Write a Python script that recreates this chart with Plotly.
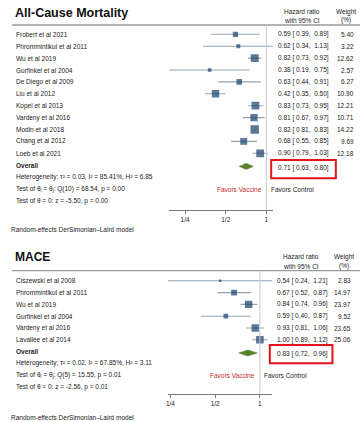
import math
import plotly.graph_objects as go

W, H = 360, 422

# ---------------- data: All-Cause Mortality ----------------
acm_studies = ["Frobert et al 2021", "Phrommintikul et al 2011", "Wu et al 2019",
               "Gurfinkel et al 2004", "De Diego et al 2009", "Liu et al 2012",
               "Kopel et al 2013", "Vardeny et al 2016", "Modin et al 2018",
               "Chang et al 2012", "Loeb et al 2021"]
acm_hr = [0.59, 0.62, 0.82, 0.38, 0.63, 0.42, 0.83, 0.81, 0.82, 0.68, 0.90]
acm_lo = [0.39, 0.34, 0.73, 0.19, 0.44, 0.35, 0.73, 0.67, 0.81, 0.55, 0.79]
acm_hi = [0.89, 1.13, 0.92, 0.75, 0.91, 0.50, 0.95, 0.97, 0.83, 0.85, 1.03]
acm_weight = [5.40, 3.22, 12.62, 2.57, 6.27, 10.90, 12.21, 10.71, 14.22, 9.69, 12.18]
acm_overall = [0.71, 0.63, 0.80]
acm_stats = ["Heterogeneity: τ² = 0.03, I² = 85.41%, H² = 6.85",
             "Test of θ<sub>i</sub> = θ<sub>j</sub>: Q(10) = 68.54, p = 0.00",
             "Test of θ = 0: z = -5.50, p = 0.00"]

# ---------------- data: MACE ----------------
mace_studies = ["Ciszewski et al 2008", "Phrommintikul et al 2011", "Wu et al 2019",
                "Gurfinkel et al 2004", "Vardeny et al 2016", "Lavallée et al 2014"]
mace_hr = [0.54, 0.67, 0.84, 0.59, 0.93, 1.00]
mace_lo = [0.24, 0.52, 0.74, 0.40, 0.81, 0.89]
mace_hi = [1.21, 0.87, 0.96, 0.87, 1.06, 1.12]
mace_weight = [2.83, 14.97, 23.97, 9.52, 23.65, 25.06]
mace_overall = [0.83, 0.72, 0.96]
mace_stats = ["Heterogeneity: τ² = 0.02, I² = 67.85%, H² = 3.11",
              "Test of θ<sub>i</sub> = θ<sub>j</sub>: Q(5) = 15.55, p = 0.01",
              "Test of θ = 0: z = -2.56, p = 0.01"]

tick_vals = [0.25, 0.5, 1]
tick_labels = ["1/4", "1/2", "1"]
titles = ["All-Cause Mortality", "MACE"]
header_hr = ["Hazard ratio", "with 95% CI"]
header_w = ["Weight", "(%)"]
footer = "Random-effects DerSimonian–Laird model"
favors = ["Favors Vaccine", "Favors Control"]

# ---------------- styling / layout constants (pixels) ----------------
FONT = "Liberation Sans, Arial, sans-serif"
SMALL = 6.5
TXT = "#222222"
SQUARE = "#173f69"
CI_COL = "#93a5b3"
DIAMOND = "#5c7f2c"
RED_TXT = "#c8282d"
BOX_RED = "#e3131b"
RULE = "#9a9a9a"
REF = "#c9c9c9"

panels = [
    dict(title_y=12.7, title_size=12.5, hdr_y=(11.7, 20.0), rule_y=25.0, axis_y=210.0,
         row0=34.3, step=11.9, x_left=168.0, x_right=273.0, overall_row=11.1,
         hr_x=276.0, w_x=355.7, hdr_hr_x=301.5, hdr_w_x=345.7, footer_y=229.0,
         box=(270.7, 160.0, 335.7, 178.3), sq_max=8.4, xa="x", ya="y"),
    dict(title_y=256.7, title_size=12.0, hdr_y=(256.7, 266.0), rule_y=270.7, axis_y=394.0,
         row0=280.8, step=11.8, x_left=166.7, x_right=271.7, overall_row=6.12,
         hr_x=274.3, w_x=352.7, hdr_hr_x=300.7, hdr_w_x=344.0, footer_y=417.0,
         box=(269.3, 345.0, 332.3, 363.3), sq_max=7.6, xa="x2", ya="y2"),
]
datasets = [
    (acm_studies, acm_hr, acm_lo, acm_hi, acm_weight, acm_overall, acm_stats),
    (mace_studies, mace_hr, mace_lo, mace_hi, mace_weight, mace_overall, mace_stats),
]


def px(p):
    return p / W


def py(p):
    return 1 - p / H


fig = go.Figure()
annotations = []
shapes = []
layout_axes = {}

for k, (cfg, data) in enumerate(zip(panels, datasets)):
    studies, hr, lo, hi, wt, overall, stats = data
    xa, ya = cfg["xa"], cfg["ya"]
    n = len(studies)
    rows = list(range(n))
    orow = cfg["overall_row"]

    # CI lines
    xs, ys = [], []
    for r, a, b in zip(rows, lo, hi):
        xs += [a, b, None]
        ys += [r, r, None]
    fig.add_trace(go.Scatter(x=xs, y=ys, mode="lines", line=dict(color=CI_COL, width=1.1),
                             xaxis=xa, yaxis=ya, hoverinfo="skip", showlegend=False))
    # weighted squares
    wmax = max(wt)
    sizes = [cfg["sq_max"] * math.sqrt(w / wmax) for w in wt]
    fig.add_trace(go.Scatter(x=hr, y=rows, mode="markers",
                             marker=dict(symbol="square", size=sizes, color=SQUARE,
                                         line=dict(width=0)),
                             xaxis=xa, yaxis=ya, showlegend=False))
    # overall diamond
    est, olo, ohi = overall
    h = 0.26
    fig.add_trace(go.Scatter(x=[olo, est, ohi, est, olo], y=[orow, orow - h, orow, orow + h, orow],
                             mode="lines", fill="toself", fillcolor=DIAMOND,
                             line=dict(color=DIAMOND, width=0.5),
                             xaxis=xa, yaxis=ya, showlegend=False))

    # axes
    r_top = (cfg["rule_y"] - cfg["row0"]) / cfg["step"]
    r_bot = (cfg["axis_y"] - cfg["row0"]) / cfg["step"]
    xname = "xaxis" if k == 0 else "xaxis2"
    yname = "yaxis" if k == 0 else "yaxis2"
    layout_axes[xname] = dict(
        type="log", range=[math.log10(min(lo)), math.log10(max(hi))],
        domain=[px(cfg["x_left"]), px(cfg["x_right"])], anchor=ya,
        showline=True, linecolor="#7a7a7a", linewidth=1, ticks="outside", ticklen=3,
        tickcolor="#7a7a7a", tickvals=tick_vals, ticktext=tick_labels,
        tickfont=dict(family=FONT, size=SMALL, color=TXT), showgrid=False, zeroline=False,
        fixedrange=True)
    layout_axes[yname] = dict(domain=[py(cfg["axis_y"]), py(cfg["rule_y"])],
                              range=[r_bot, r_top], visible=False, anchor=xa, fixedrange=True)

    fnt = dict(family=FONT, size=SMALL, color=TXT)
    # study labels and numbers
    for r, s, e, a, b, w in zip(rows, studies, hr, lo, hi, wt):
        annotations.append(dict(x=px(11.7), xref="paper", y=r, yref=ya, text=s, showarrow=False,
                                xanchor="left", yanchor="middle", font=fnt))
        annotations.append(dict(x=px(cfg["hr_x"]), xref="paper", y=r, yref=ya,
                                text=f"{e:.2f} [ {a:.2f},  {b:.2f}]", showarrow=False,
                                xanchor="left", yanchor="middle", font=fnt))
        annotations.append(dict(x=px(cfg["w_x"]), xref="paper", y=r, yref=ya,
                                text=f"{w:.2f}", showarrow=False,
                                xanchor="right", yanchor="middle", font=fnt))
    # overall
    annotations.append(dict(x=px(11.7), xref="paper", y=orow - 0.1, yref=ya, text="<b>Overall</b>",
                            showarrow=False, xanchor="left", yanchor="middle", font=fnt))
    annotations.append(dict(x=px(cfg["hr_x"]), xref="paper", y=orow + 0.1, yref=ya,
                            text=f"{est:.2f} [ {olo:.2f},  {ohi:.2f}]", showarrow=False,
                            xanchor="left", yanchor="middle", font=fnt))
    for i, s in enumerate(stats):
        annotations.append(dict(x=px(11.7), xref="paper", y=round(orow) + 1 + i, yref=ya, text=s,
                                showarrow=False, xanchor="left", yanchor="middle", font=fnt))
    # favors labels
    fav_row = round(orow) + 2
    annotations.append(dict(x=0, xref=xa, y=fav_row, yref=ya,
                            text=favors[0], showarrow=False, xanchor="right", yanchor="middle",
                            xshift=-2.5, font=dict(family=FONT, size=SMALL, color=RED_TXT)))
    annotations.append(dict(x=0, xref=xa, y=fav_row, yref=ya, text=favors[1], showarrow=False,
                            xanchor="left", yanchor="middle", xshift=2.5, font=fnt))

    # titles, headers, footer
    annotations.append(dict(x=px(11.0), xref="paper", y=py(cfg["title_y"]), yref="paper",
                            text=f"<b>{titles[k]}</b>", showarrow=False, xanchor="left",
                            yanchor="middle",
                            font=dict(family=FONT, size=cfg["title_size"], color="#111111")))
    for j in range(2):
        annotations.append(dict(x=px(cfg["hdr_hr_x"]), xref="paper", y=py(cfg["hdr_y"][j]),
                                yref="paper", text=header_hr[j], showarrow=False,
                                xanchor="center", yanchor="middle", font=fnt))
        annotations.append(dict(x=px(cfg["hdr_w_x"]), xref="paper", y=py(cfg["hdr_y"][j]),
                                yref="paper", text=header_w[j], showarrow=False,
                                xanchor="center", yanchor="middle", font=fnt))
    annotations.append(dict(x=px(6.7), xref="paper", y=py(cfg["footer_y"]), yref="paper",
                            text=footer, showarrow=False, xanchor="left", yanchor="middle",
                            font=fnt))

    # rule line, reference line at 1, red box
    shapes.append(dict(type="line", xref="paper", yref="paper", x0=px(10), x1=1,
                       y0=py(cfg["rule_y"]), y1=py(cfg["rule_y"]),
                       line=dict(color=RULE, width=1.3)))
    shapes.append(dict(type="line", xref=xa, yref="paper", x0=1, x1=1,
                       y0=py(cfg["axis_y"]), y1=py(cfg["rule_y"]),
                       line=dict(color=REF, width=1)))
    bx0, by0, bx1, by1 = cfg["box"]
    shapes.append(dict(type="rect", xref="paper", yref="paper", x0=px(bx0), x1=px(bx1),
                       y0=py(by1), y1=py(by0), line=dict(color=BOX_RED, width=2)))

fig.update_layout(
    width=W, height=H, margin=dict(l=0, r=0, t=0, b=0),
    paper_bgcolor="white", plot_bgcolor="white",
    annotations=annotations, shapes=shapes, showlegend=False,
    **layout_axes,
)

fig.write_html("out.html", config={"displayModeBar": False},
               post_script="document.body.style.margin='0px';")
